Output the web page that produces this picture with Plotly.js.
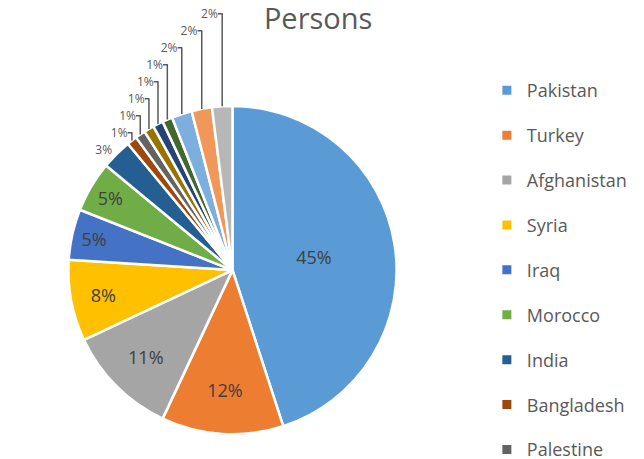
<!DOCTYPE html>
<html><head><meta charset="utf-8">
<script src="https://cdn.plot.ly/plotly-3.0.1.min.js"></script>
<style>body{margin:0;background:#fff}#chart{width:644px;height:459px}</style>
</head><body><div id="chart"></div>
<script>
const labels = ["Pakistan","Turkey","Afghanistan","Syria","Iraq","Morocco","India","Bangladesh","Palestine","Other 1","Other 2","Other 3","Other 4","Other 5","Other 6"];
const values = [45,12,11,8,5,5,3,1,1,1,1,1,2,2,2];
const colors = ["#5B9BD5","#ED7D31","#A5A5A5","#FFC000","#4472C4","#70AD47","#255E91","#9E480E","#636363","#997300","#264478","#43682B","#7CAFDD","#F1975A","#B7B7B7"];
const legendCount = 9; // legend entries visible in the reference
const font = "'Open Sans', 'Noto Sans', sans-serif";

const pos = values.map(v => v >= 5 ? "inside" : "outside");
const traces = [{
  type: "pie",
  labels: labels, values: values, sort: false,
  direction: "clockwise", rotation: 0,
  marker: {colors: colors, line: {color: "#ffffff", width: 2.5}},
  texttemplate: "%{percent:.0%}",
  textposition: pos,
  insidetextorientation: "horizontal",
  insidetextfont: {family: font, size: 18, color: "#404040"},
  outsidetextfont: {family: font, size: 12, color: "#595959"},
  automargin: false,
  showlegend: false,
  domain: {x: [0.104, 0.618], y: [0.054, 0.769]},
  hoverinfo: "label+percent"
}];
for (let i = 0; i < legendCount; i++) {
  traces.push({
    type: "scatter", mode: "markers", x: [null], y: [null],
    name: labels[i], legendgroup: "g" + i,
    marker: {symbol: "square", size: 9, color: colors[i]},
    hoverinfo: "skip"
  });
}
const layout = {
  width: 644, height: 459,
  margin: {l: 0, r: 0, t: 0, b: 0, autoexpand: false},
  paper_bgcolor: "#ffffff", plot_bgcolor: "#ffffff",
  title: {text: "Persons", x: 0.494, xanchor: "center", y: 0.96, yanchor: "middle",
          font: {family: font, size: 29, color: "#595959"}},
  xaxis: {visible: false}, yaxis: {visible: false},
  showlegend: true,
  legend: {x: 0.756, xanchor: "left", y: 0.843, yanchor: "top",
           font: {family: font, size: 18, color: "#595959"},
           tracegroupgap: 18.5, itemclick: false, itemdoubleclick: false,
           bgcolor: "rgba(0,0,0,0)"}
};
Plotly.newPlot("chart", traces, layout, {displayModeBar: false, staticPlot: true});
</script></body></html>
